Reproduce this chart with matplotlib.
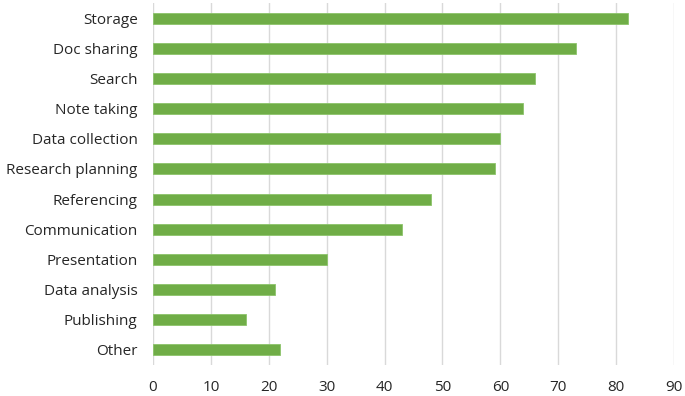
import matplotlib
matplotlib.use("Agg")
import matplotlib.pyplot as plt

categories = ["Storage", "Doc sharing", "Search", "Note taking", "Data collection",
              "Research planning", "Referencing", "Communication", "Presentation",
              "Data analysis", "Publishing", "Other"]
values = [82, 73, 66, 64, 60, 59, 48, 43, 30, 21, 16, 22]
xticks = [0, 10, 20, 30, 40, 50, 60, 70, 80, 90]

plt.rcParams['font.family'] = ['Open Sans', 'DejaVu Sans']

fig = plt.figure(figsize=(6.85, 3.96), dpi=100)
ax = fig.add_axes([153/685, 1-365/396, (674-153)/685, 362/396])

pos = list(range(len(categories)))
ax.barh(pos, values, height=0.36, color="#70AD47", edgecolor="#8CC46A", linewidth=0.6, zorder=3)
ax.set_ylim(len(categories)-0.5, -0.5)
ax.set_xlim(0, 90)
ax.set_xticks(xticks)
ax.set_xticklabels([str(t) for t in xticks])
ax.set_yticks(pos)
ax.set_yticklabels(categories)
ax.grid(axis='x', color="#D9D9D9", linewidth=1.0, zorder=0)
for s in ax.spines.values():
    s.set_visible(False)
ax.tick_params(axis='both', length=0, labelsize=11, labelcolor="#262626")
ax.tick_params(axis='y', pad=11)
ax.tick_params(axis='x', pad=11)

fig.savefig("out.png", dpi=100)
